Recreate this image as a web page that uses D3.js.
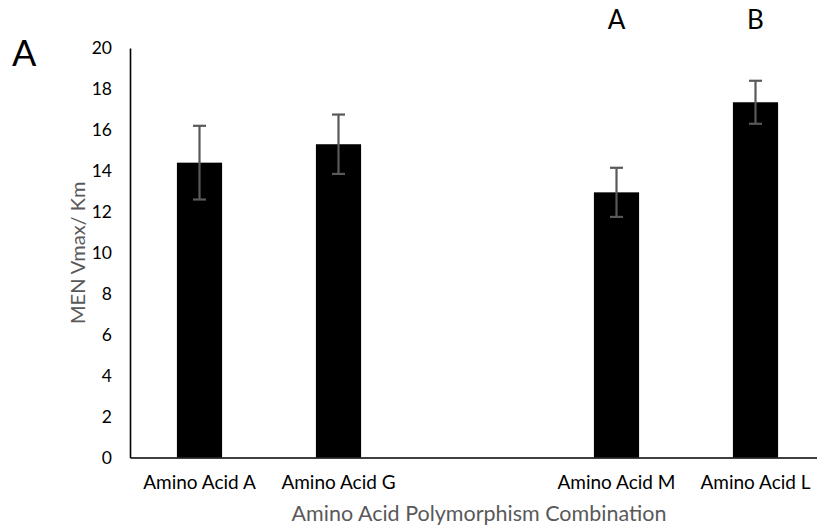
<!DOCTYPE html>
<html>
<head>
<meta charset="utf-8">
<script src="https://cdn.jsdelivr.net/npm/d3@7/dist/d3.min.js"></script>
<style>
  html, body { margin: 0; padding: 0; background: #fff; }
  svg { display: block; }
  text { font-family: Lato, "Open Sans", sans-serif; }
</style>
</head>
<body>
<svg id="chart" width="817" height="529"></svg>
<script>
// Polymorphism groups (the blank slot separates the two pairs)
const categories = ["Amino Acid A", "Amino Acid G", "", "Amino Acid M", "Amino Acid L"];
const means      = [14.4, 15.3, null, 12.95, 17.35];
const errors     = [1.8, 1.45, null, 1.2, 1.05];
const sigLetters = ["", "", "", "A", "B"];
const yTicks     = [0, 2, 4, 6, 8, 10, 12, 14, 16, 18, 20];

const rows = categories.map((c, i) => ({ cat: c, key: "slot" + i, mean: means[i], err: errors[i], sig: sigLetters[i] }));

const svg = d3.select("#chart");

const x = d3.scaleBand()
  .domain(rows.map(d => d.key))
  .range([130, 825])
  .padding(0);

const y = d3.scaleLinear()
  .domain([0, 20])
  .range([457.5, 48]);

const barW = x.bandwidth() * 0.325;
const cx = d => x(d.key) + x.bandwidth() / 2;
const withData = rows.filter(d => d.mean != null);

// Bars
svg.append("g")
  .selectAll("rect")
  .data(withData)
  .join("rect")
  .attr("x", d => cx(d) - barW / 2)
  .attr("y", d => y(d.mean))
  .attr("width", barW)
  .attr("height", d => y(0) - y(d.mean))
  .attr("fill", "#000");

// Error bars
const eb = svg.append("g")
  .attr("stroke", "#595959")
  .attr("stroke-width", 2.2)
  .selectAll("g")
  .data(withData)
  .join("g");
eb.append("line")
  .attr("x1", cx).attr("x2", cx)
  .attr("y1", d => y(d.mean + d.err))
  .attr("y2", d => y(d.mean - d.err));
eb.append("line")
  .attr("x1", d => cx(d) - 6.5).attr("x2", d => cx(d) + 6.5)
  .attr("y1", d => y(d.mean + d.err)).attr("y2", d => y(d.mean + d.err));
eb.append("line")
  .attr("x1", d => cx(d) - 6.5).attr("x2", d => cx(d) + 6.5)
  .attr("y1", d => y(d.mean - d.err)).attr("y2", d => y(d.mean - d.err));

// Y axis
const yAxis = svg.append("g")
  .attr("transform", "translate(130,0)")
  .call(d3.axisLeft(y).tickValues(yTicks).tickSize(0).tickPadding(18));
yAxis.select(".domain").attr("stroke", "#000").attr("stroke-width", 1.6);
yAxis.selectAll("text")
  .attr("font-family", "Lato, 'Open Sans', sans-serif")
  .attr("font-size", 17.5)
  .attr("fill", "#000");

// X axis
const xAxis = svg.append("g")
  .attr("transform", `translate(0,${y(0)})`)
  .call(d3.axisBottom(x).tickFormat((k, i) => categories[i]).tickSize(0).tickPadding(18.5));
xAxis.select(".domain").attr("stroke", "#000").attr("stroke-width", 1.6);
xAxis.selectAll("text")
  .attr("font-family", "Lato, 'Open Sans', sans-serif")
  .attr("font-size", 19)
  .attr("fill", "#000");

// Significance letters above the bars
svg.append("g")
  .selectAll("text")
  .data(rows.filter(d => d.sig))
  .join("text")
  .attr("x", cx)
  .attr("y", 29)
  .attr("text-anchor", "middle")
  .attr("font-size", 26)
  .attr("fill", "#000")
  .text(d => d.sig);

// Axis titles
svg.append("text")
  .attr("x", 479)
  .attr("y", 521)
  .attr("text-anchor", "middle")
  .attr("font-size", 21.5)
  .attr("fill", "#595959")
  .text("Amino Acid Polymorphism Combination");

svg.append("text")
  .attr("transform", `translate(85,${(y(0) + y(20)) / 2}) rotate(-90)`)
  .attr("text-anchor", "middle")
  .attr("font-size", 20)
  .attr("fill", "#595959")
  .text("MEN Vmax/ Km");

// Panel label
svg.append("text")
  .attr("x", 12)
  .attr("y", 66)
  .attr("font-size", 36)
  .attr("fill", "#000")
  .text("A");
</script>
</body>
</html>
